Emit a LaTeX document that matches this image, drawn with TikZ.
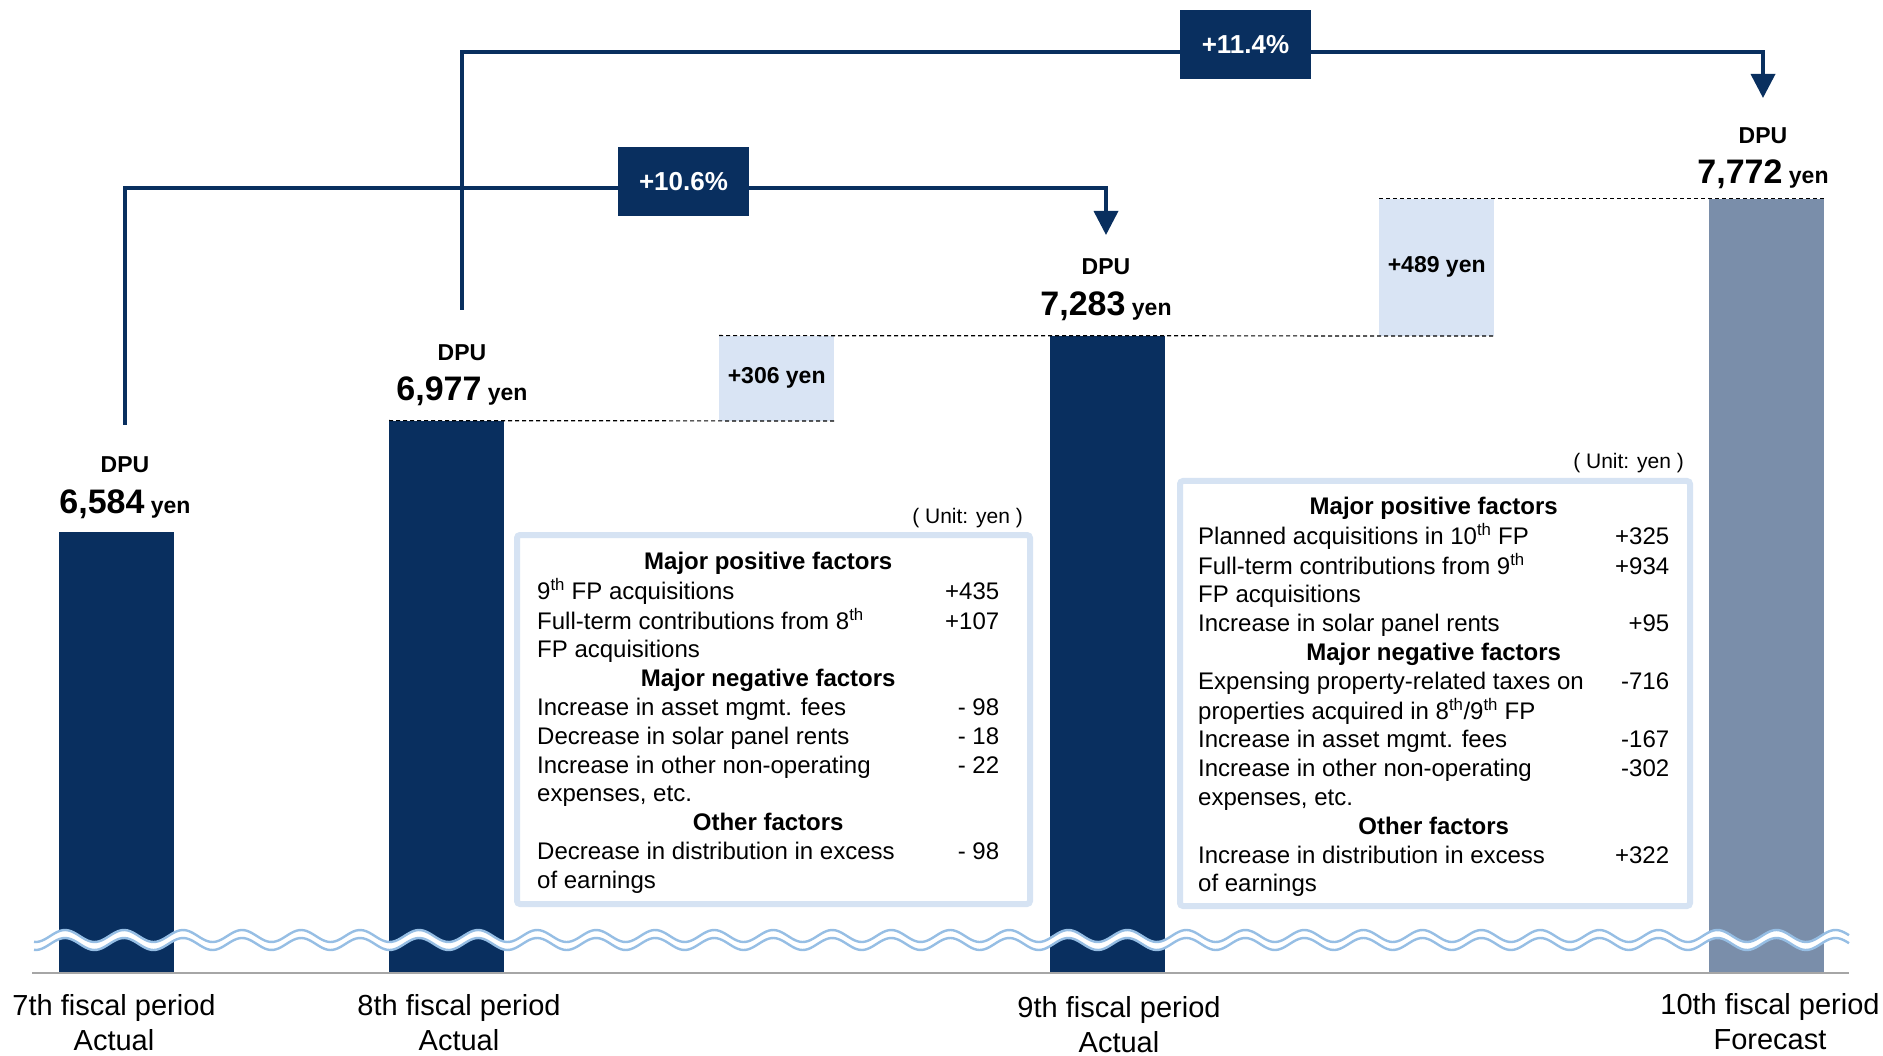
\documentclass[tikz,border=0pt]{standalone}
\usepackage{fontspec}
\setmainfont{Liberation Sans}
\usepackage{xcolor}
\usepackage{tikz}
\usetikzlibrary{positioning}
\usetikzlibrary{arrows.meta}

\definecolor{dpunavy}{RGB}{9,47,95}
\definecolor{dpugray}{RGB}{122,142,170}
\definecolor{dpulight}{RGB}{217,228,244}
\definecolor{boxline}{RGB}{214,227,243}
\definecolor{waveblue}{RGB}{150,190,228}
\newcommand{\dpunum}[1]{{\fontsize{34}{40}\selectfont #1}}

\begin{document}
\begin{tikzpicture}[x=1pt,y=-1pt]
\tikzset{
    mybar/.style = {rectangle, fill=dpunavy, anchor=south west, minimum width=115pt, inner sep=0pt},
    mydelta/.style = {rectangle, fill=dpulight, anchor=south west, minimum width=115pt, inner sep=0pt, font=\bfseries\fontsize{23}{26}\selectfont},
    mypct/.style = {rectangle, fill=dpunavy, text=white, minimum width=131pt, minimum height=69pt, font=\bfseries\fontsize{26}{30}\selectfont},
    mydpu/.style = {anchor=base, inner sep=0pt, font=\bfseries\fontsize{23}{26}\selectfont},
    myperiod/.style = {align=center, inner sep=0pt, font=\fontsize{29}{35}\selectfont},
    myunit/.style = {anchor=base east, inner sep=0pt, font=\fontsize{21}{25}\selectfont},
    myframe/.style = {draw=boxline, line width=6pt, fill=white, rounded corners=3pt},
    mylist/.style = {anchor=north west, inner sep=0pt, font=\fontsize{24}{28.8}\selectfont},
    myline/.style = {draw=dpunavy, line width=3.6pt},
    myarrow/.style = {myline, -{Triangle[width=24pt,length=24pt]}},
    mydash/.style = {line width=1.2pt, dash pattern=on 4pt off 3pt},
    mywave/.style = {draw=waveblue, line width=2.4pt}
}
\useasboundingbox (0,0) rectangle (1883,1056);

\node[mybar,minimum height=441pt] (bar7) at (59,973) {};
\node[mybar,minimum height=552pt] (bar8) at (389,973) {};
\node[mybar,minimum height=637pt] (bar9) at (1050,973) {};
\node[mybar,minimum height=774pt,fill=dpugray] (bar10) at (1709,973) {};

\node[mydelta,minimum height=85pt] (d306) at (719,421) {+306 yen};
\node[mydelta,minimum height=137pt] (d489) at (1379,336) {+489 yen};

\draw[mydash] (bar8.north west) -- (d306.south east);
\draw[mydash] (d306.north west) -- (d489.south east);
\draw[mydash] (d489.north west) -- (bar10.north east);

\node[mydpu] (dpu7) at (125,473) {DPU};
\node[mydpu] (val7) at (125,513) {\dpunum{6,584} yen};
\node[mydpu] (dpu8) at (462,361) {DPU};
\node[mydpu] (val8) at (462,401) {\dpunum{6,977} yen};
\node[mydpu] (dpu9) at (1106,275) {DPU};
\node[mydpu] (val9) at (1106,316) {\dpunum{7,283} yen};
\node[mydpu] (dpu10) at (1763,144) {DPU};
\node[mydpu] (val10) at (1763,184) {\dpunum{7,772} yen};

\coordinate (s7) at (125,425);
\coordinate (t9) at (1106,235);
\coordinate (s8) at (462,310);
\coordinate (t10) at (1763,98);
\draw[myarrow] (s7) -- ++(0,-237) -| (t9);
\draw[myarrow] (s8) -- ++(0,-258) -| (t10);
\node[mypct] (p106) at (683.5,181.5) {+10.6\%};
\node[mypct] (p114) at (1245.5,44.5) {+11.4\%};

\draw[myframe] (517,535) rectangle (1030,904);
\draw[myframe] (1180,481) rectangle (1690,906);
\node[myunit] (u8) at (1023,523) {( Unit: yen )};
\node[myunit] (u9) at (1684,468) {( Unit: yen )};

\node[mylist] (list8) at (537,549) {%
\begin{tabular*}{462pt}{@{}l@{\extracolsep{\fill}}r@{}}
\multicolumn{2}{@{}c@{}}{\textbf{Major positive factors}}\\
9\textsuperscript{th} FP acquisitions & +435\\
Full-term contributions from 8\textsuperscript{th} & +107\\
FP acquisitions & \\
\multicolumn{2}{@{}c@{}}{\textbf{Major negative factors}}\\
Increase in asset mgmt. fees & - 98\\
Decrease in solar panel rents & - 18\\
Increase in other non-operating & - 22\\
expenses, etc. & \\
\multicolumn{2}{@{}c@{}}{\textbf{Other factors}}\\
Decrease in distribution in excess & - 98\\
of earnings &
\end{tabular*}};

\node[mylist] (list9) at (1198,494) {%
\begin{tabular*}{471pt}{@{}l@{\extracolsep{\fill}}r@{}}
\multicolumn{2}{@{}c@{}}{\textbf{Major positive factors}}\\
Planned acquisitions in 10\textsuperscript{th} FP & +325\\
Full-term contributions from 9\textsuperscript{th} & +934\\
FP acquisitions & \\
Increase in solar panel rents & +95\\
\multicolumn{2}{@{}c@{}}{\textbf{Major negative factors}}\\
Expensing property-related taxes on & -716\\
properties acquired in 8\textsuperscript{th}/9\textsuperscript{th} FP & \\
Increase in asset mgmt. fees & -167\\
Increase in other non-operating & -302\\
expenses, etc. & \\
\multicolumn{2}{@{}c@{}}{\textbf{Other factors}}\\
Increase in distribution in excess & +322\\
of earnings &
\end{tabular*}};

\fill[white] plot[domain=34:1849,samples=700] (\x,{936-6*cos((\x-65)*6.1)})
  -- plot[domain=1849:34,samples=700] (\x,{944-6*cos((\x-65)*6.1)}) -- cycle;
\draw[mywave] plot[domain=34:1849,samples=700] (\x,{936-6*cos((\x-65)*6.1)});
\draw[mywave] plot[domain=34:1849,samples=700] (\x,{944-6*cos((\x-65)*6.1)});
\draw[gray!70,line width=2pt] (32,973) -- (1849,973);

\node[myperiod] (l7) at (114,1022.5) {7th fiscal period\\Actual};
\node[myperiod] (l8) at (459,1022.5) {8th fiscal period\\Actual};
\node[myperiod] (l9) at (1119,1025) {9th fiscal period\\Actual};
\node[myperiod] (l10) at (1770,1021.5) {10th fiscal period\\Forecast};
\end{tikzpicture}
\end{document}
